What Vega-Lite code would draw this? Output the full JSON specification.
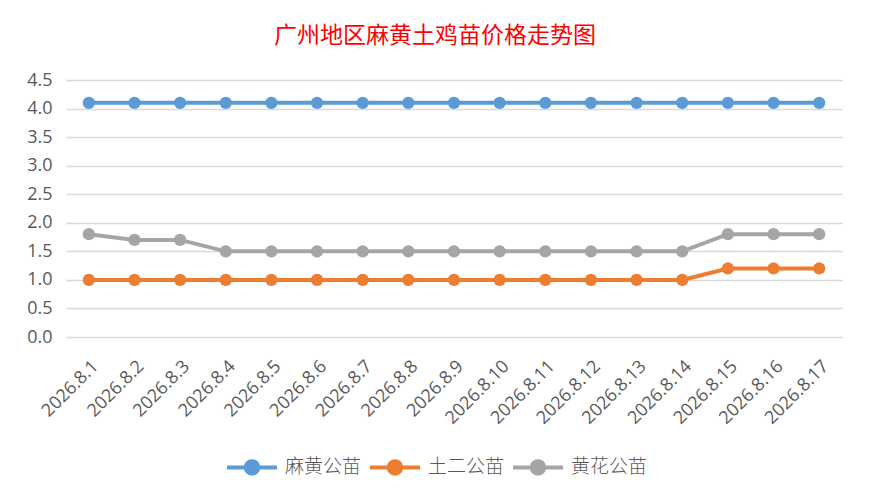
{
  "$schema": "https://vega.github.io/schema/vega-lite/v6.json",
  "autosize": {"type": "none"},
  "width": 776,
  "height": 257,
  "padding": {"left": 66, "top": 80, "right": 27, "bottom": 166},
  "background": "white",
  "title": {
    "text": "广州地区麻黄土鸡苗价格走势图",
    "color": "#FF0000",
    "font": "Noto Sans CJK SC",
    "fontSize": 23,
    "fontWeight": "normal",
    "offset": 23,
    "anchor": "middle",
    "dx": -19
  },
  "data": {
    "values": [
      {"date": "2026.8.1", "series": "麻黄公苗", "price": 4.1},
      {"date": "2026.8.2", "series": "麻黄公苗", "price": 4.1},
      {"date": "2026.8.3", "series": "麻黄公苗", "price": 4.1},
      {"date": "2026.8.4", "series": "麻黄公苗", "price": 4.1},
      {"date": "2026.8.5", "series": "麻黄公苗", "price": 4.1},
      {"date": "2026.8.6", "series": "麻黄公苗", "price": 4.1},
      {"date": "2026.8.7", "series": "麻黄公苗", "price": 4.1},
      {"date": "2026.8.8", "series": "麻黄公苗", "price": 4.1},
      {"date": "2026.8.9", "series": "麻黄公苗", "price": 4.1},
      {"date": "2026.8.10", "series": "麻黄公苗", "price": 4.1},
      {"date": "2026.8.11", "series": "麻黄公苗", "price": 4.1},
      {"date": "2026.8.12", "series": "麻黄公苗", "price": 4.1},
      {"date": "2026.8.13", "series": "麻黄公苗", "price": 4.1},
      {"date": "2026.8.14", "series": "麻黄公苗", "price": 4.1},
      {"date": "2026.8.15", "series": "麻黄公苗", "price": 4.1},
      {"date": "2026.8.16", "series": "麻黄公苗", "price": 4.1},
      {"date": "2026.8.17", "series": "麻黄公苗", "price": 4.1},
      {"date": "2026.8.1", "series": "土二公苗", "price": 1.0},
      {"date": "2026.8.2", "series": "土二公苗", "price": 1.0},
      {"date": "2026.8.3", "series": "土二公苗", "price": 1.0},
      {"date": "2026.8.4", "series": "土二公苗", "price": 1.0},
      {"date": "2026.8.5", "series": "土二公苗", "price": 1.0},
      {"date": "2026.8.6", "series": "土二公苗", "price": 1.0},
      {"date": "2026.8.7", "series": "土二公苗", "price": 1.0},
      {"date": "2026.8.8", "series": "土二公苗", "price": 1.0},
      {"date": "2026.8.9", "series": "土二公苗", "price": 1.0},
      {"date": "2026.8.10", "series": "土二公苗", "price": 1.0},
      {"date": "2026.8.11", "series": "土二公苗", "price": 1.0},
      {"date": "2026.8.12", "series": "土二公苗", "price": 1.0},
      {"date": "2026.8.13", "series": "土二公苗", "price": 1.0},
      {"date": "2026.8.14", "series": "土二公苗", "price": 1.0},
      {"date": "2026.8.15", "series": "土二公苗", "price": 1.2},
      {"date": "2026.8.16", "series": "土二公苗", "price": 1.2},
      {"date": "2026.8.17", "series": "土二公苗", "price": 1.2},
      {"date": "2026.8.1", "series": "黄花公苗", "price": 1.8},
      {"date": "2026.8.2", "series": "黄花公苗", "price": 1.7},
      {"date": "2026.8.3", "series": "黄花公苗", "price": 1.7},
      {"date": "2026.8.4", "series": "黄花公苗", "price": 1.5},
      {"date": "2026.8.5", "series": "黄花公苗", "price": 1.5},
      {"date": "2026.8.6", "series": "黄花公苗", "price": 1.5},
      {"date": "2026.8.7", "series": "黄花公苗", "price": 1.5},
      {"date": "2026.8.8", "series": "黄花公苗", "price": 1.5},
      {"date": "2026.8.9", "series": "黄花公苗", "price": 1.5},
      {"date": "2026.8.10", "series": "黄花公苗", "price": 1.5},
      {"date": "2026.8.11", "series": "黄花公苗", "price": 1.5},
      {"date": "2026.8.12", "series": "黄花公苗", "price": 1.5},
      {"date": "2026.8.13", "series": "黄花公苗", "price": 1.5},
      {"date": "2026.8.14", "series": "黄花公苗", "price": 1.5},
      {"date": "2026.8.15", "series": "黄花公苗", "price": 1.8},
      {"date": "2026.8.16", "series": "黄花公苗", "price": 1.8},
      {"date": "2026.8.17", "series": "黄花公苗", "price": 1.8}
    ]
  },
  "mark": {
    "type": "line",
    "strokeWidth": 4,
    "point": {"filled": true, "size": 150, "opacity": 1}
  },
  "encoding": {
    "x": {
      "field": "date",
      "type": "nominal",
      "sort": null,
      "scale": {"type": "point", "padding": 0.5},
      "axis": {
        "title": null,
        "labelAngle": -45,
        "labelFont": "Open Sans",
        "labelFontSize": 18,
        "labelColor": "#595959",
        "domain": false,
        "ticks": false,
        "grid": false,
        "labelPadding": 20
      }
    },
    "y": {
      "field": "price",
      "type": "quantitative",
      "scale": {"domain": [0, 4.5], "nice": false},
      "axis": {
        "title": null,
        "values": [0, 0.5, 1, 1.5, 2, 2.5, 3, 3.5, 4, 4.5],
        "format": ".1f",
        "labelFont": "Open Sans",
        "labelFontSize": 18,
        "labelColor": "#595959",
        "domain": false,
        "ticks": false,
        "labelPadding": 14,
        "gridColor": "#D9D9D9",
        "gridWidth": 1.5
      }
    },
    "color": {
      "field": "series",
      "type": "nominal",
      "scale": {
        "domain": ["麻黄公苗", "土二公苗", "黄花公苗"],
        "range": ["#5B9BD5", "#ED7D31", "#A5A5A5"]
      },
      "legend": {
        "title": null,
        "orient": "none",
        "direction": "horizontal",
        "legendX": 159,
        "legendY": 360,
        "symbolType": "M -1 0 L 1 0 M -0.25 0 A 0.25 0.25 0 1 1 0.25 0 A 0.25 0.25 0 1 1 -0.25 0 Z",
        "symbolSize": 2500,
        "symbolStrokeWidth": 4,
        "symbolOpacity": 1,
        "labelFont": "Noto Sans CJK SC",
        "labelFontSize": 19,
        "labelFontWeight": 300,
        "labelColor": "#595959",
        "labelOffset": 6,
        "columnPadding": 0
      }
    }
  },
  "config": {
    "view": {"stroke": null}
  }
}
